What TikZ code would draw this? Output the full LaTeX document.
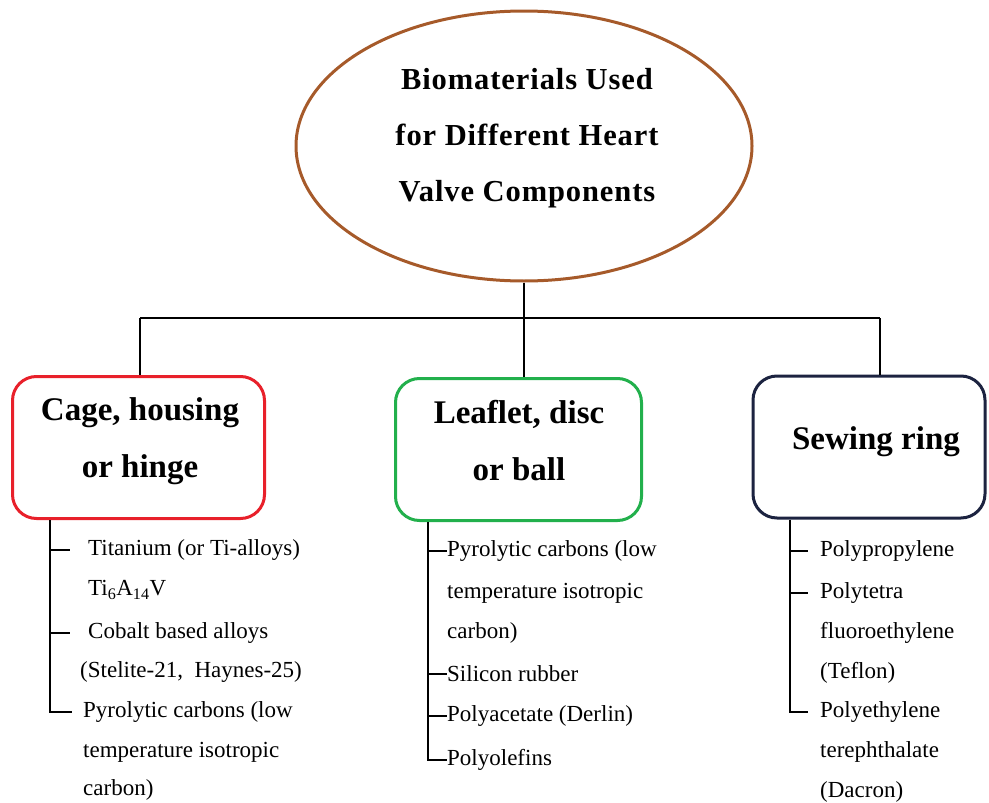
\documentclass[tikz,border=0pt]{standalone}
\usepackage{fontspec}
\setmainfont{Liberation Serif}
\newfontfamily\titlefont[LetterSpace=3]{Liberation Serif}
\usetikzlibrary{shapes.geometric}
\definecolor{brownc}{HTML}{A65A2A}
\definecolor{redc}{HTML}{E8202A}
\definecolor{greenc}{HTML}{22B04C}
\definecolor{navyc}{HTML}{1C2340}
\begin{document}
\begin{tikzpicture}[x=1pt,y=-1pt,
  catbox/.style={draw=#1, line width=3pt, rounded corners=24pt, inner sep=0pt},
  cattext/.style={font=\fontsize{33}{57}\selectfont\bfseries, align=center},
  item/.style={anchor=west, inner sep=0pt, font=\fontsize{23}{26}\selectfont},
  conn/.style={line width=2pt, black}]
\useasboundingbox (0,0) rectangle (989,803);
% title
\node[ellipse, draw=brownc, line width=3pt, minimum width=456pt, minimum height=270pt] (title) at (524,146) {};
\node[font=\titlefont\fontsize{30.5}{56}\selectfont\bfseries, align=center] (titletext) at (527,138)
  {Biomaterials Used\\for Different Heart\\Valve Components};
% category boxes
\node[catbox=redc, minimum width=252pt, minimum height=142pt] (cage) at (138.5,447.5) {};
\node[cattext] (cagetext) at (140,441) {Cage, housing\\or hinge};
\node[catbox=greenc, minimum width=246pt, minimum height=142pt] (leaf) at (518.5,449.5) {};
\node[cattext] (leaftext) at (519,441) {Leaflet, disc\\or ball};
\node[catbox=navyc, minimum width=232pt, minimum height=142pt] (sew) at (869,447) {};
\node[cattext] (sewtext) at (876,442) {Sewing ring};
% trunk connectors
\coordinate (j) at (524,318);
\coordinate (jl) at (140,318);
\coordinate (jr) at (880,318);
\draw[conn] (title.south -| j) -- (j);
\draw[conn] (jl) -- (jr);
\draw[conn] (jl) -- (jl |- cage.north);
\draw[conn] (j) -- (j |- leaf.north);
\draw[conn] (jr) -- (jr |- sew.north);
% left list
\node[item] (l1) at (88,550) {Titanium (or Ti-alloys)};
\node[item] (l2) at (88,590) {Ti\textsubscript{6}A\textsubscript{14}V};
\node[item] (l3) at (88,633) {Cobalt based alloys};
\node[item] (l4) at (80,672) {(Stelite-21,\ \ Haynes-25)};
\node[item] (l5) at (83,712) {Pyrolytic carbons (low};
\node[item] (l6) at (83,752) {temperature isotropic};
\node[item] (l7) at (83,790) {carbon)};
\coordinate (la) at (50,550); \coordinate (lat) at (70,550);
\coordinate (lb) at (50,633); \coordinate (lbt) at (70,633);
\coordinate (lc) at (50,712); \coordinate (lct) at (72,712);
\draw[conn] (la |- cage.south) -- (lc) -- (lct);
\draw[conn] (la) -- (lat);
\draw[conn] (lb) -- (lbt);
% middle list
\node[item] (m1) at (447,551) {Pyrolytic carbons (low};
\node[item] (m2) at (447,593) {temperature isotropic};
\node[item] (m3) at (447,633) {carbon)};
\node[item] (m4) at (447,674) {Silicon rubber};
\node[item] (m5) at (447,716) {Polyacetate (Derlin)};
\node[item] (m6) at (447,760) {Polyolefins};
\coordinate (ma) at (428,551);
\coordinate (mb) at (428,674);
\coordinate (mc) at (428,716);
\coordinate (md) at (428,760);
\draw[conn] (ma |- leaf.south) -- (md) -- (m6.west);
\draw[conn] (ma) -- (m1.west);
\draw[conn] (mb) -- (m4.west);
\draw[conn] (mc) -- (m5.west);
% right list
\node[item] (r1) at (820,551) {Polypropylene};
\node[item] (r2) at (820,593) {Polytetra};
\node[item] (r3) at (820,633) {fluoroethylene};
\node[item] (r4) at (820,673) {(Teflon)};
\node[item] (r5) at (820,712) {Polyethylene};
\node[item] (r6) at (820,752) {terephthalate};
\node[item] (r7) at (820,792) {(Dacron)};
\coordinate (ra) at (790,551); \coordinate (rat) at (808,551);
\coordinate (rb) at (790,593); \coordinate (rbt) at (808,593);
\coordinate (rc) at (790,712); \coordinate (rct) at (808,712);
\draw[conn] (ra |- sew.south) -- (rc) -- (rct);
\draw[conn] (ra) -- (rat);
\draw[conn] (rb) -- (rbt);
\end{tikzpicture}
\end{document}
